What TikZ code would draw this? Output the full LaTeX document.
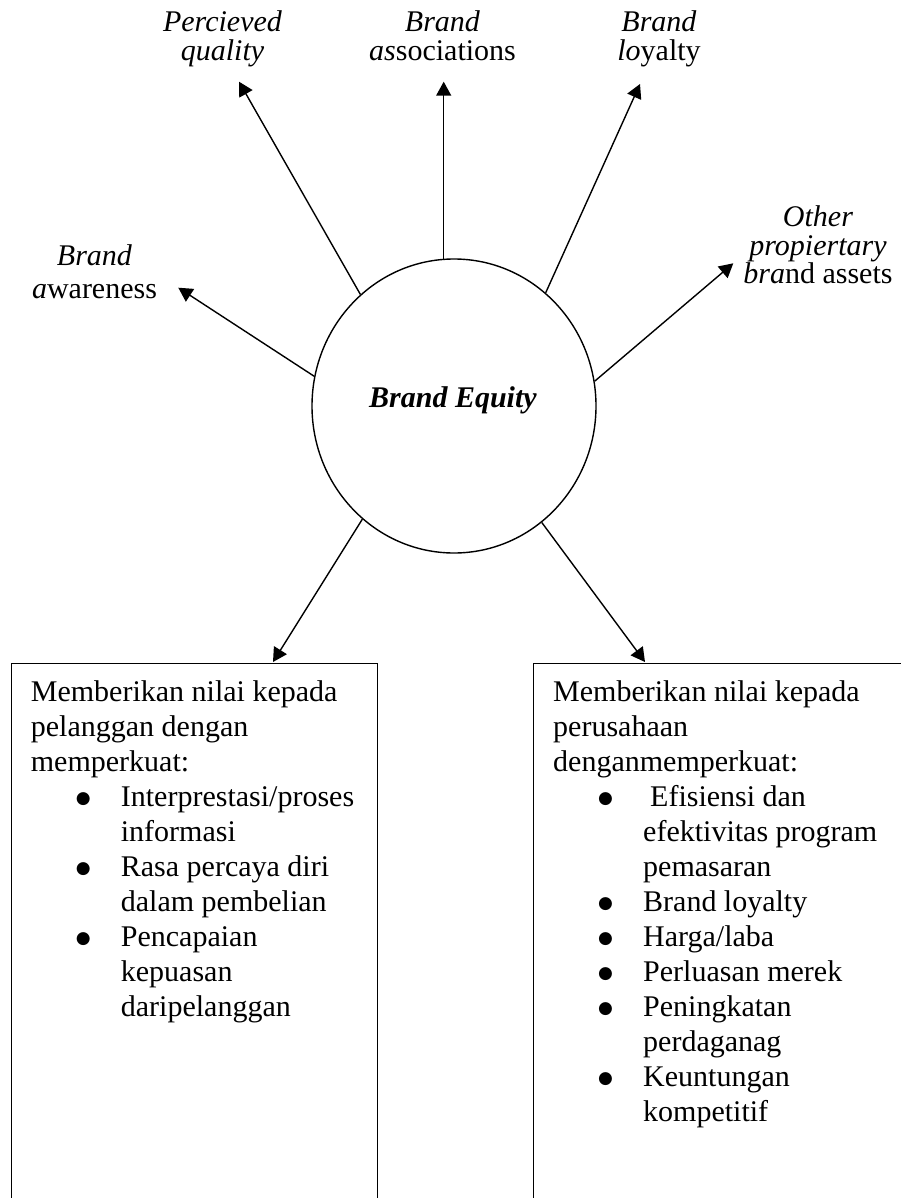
\documentclass[tikz,border=0pt]{standalone}
\usepackage{fontspec}
\setmainfont{Liberation Serif}
\newfontfamily\dotfont{DejaVu Sans}
\usetikzlibrary{shapes.geometric,arrows.meta}

% list lines: a round bullet, then the item text on a hanging indent
\newcommand{\bigbullet}{\raisebox{2.5pt}{\dotfont\fontsize{17}{35}\selectfont ●}}
\newcommand{\itemline}[1]{\hspace*{45pt}\makebox[45pt][l]{\bigbullet}#1}
\newcommand{\contline}[1]{\hspace*{90pt}#1}

\begin{document}
\begin{tikzpicture}[x=1pt,y=-1pt,
  conn/.style={line width=1.4pt,-{Triangle[width=15pt,length=14pt]}},
  frame/.style={draw,line width=1.4pt,inner sep=0pt,anchor=north west},
  toplabel/.style={inner sep=0pt,anchor=north,font=\fontsize{30}{28.3}\selectfont},
  sidelabel/.style={inner sep=0pt,anchor=north,font=\fontsize{30}{33}\selectfont},
  boxtext/.style={inner sep=0pt,anchor=north west,font=\fontsize{30}{35}\selectfont}]

\useasboundingbox (0,0) rectangle (901,1198);
\clip (0,0) rectangle (901,1198);

% central ellipse
\node[ellipse,draw,line width=1.4pt,minimum width=284pt,minimum height=294pt,inner sep=0pt] (be) at (454,406) {};
\node[anchor=base,inner sep=0pt,font=\fontsize{30}{35}\selectfont] (betxt) at (453,407) {\textbf{\textit{Brand Equity}}};

% surrounding dimensions
\node[sidelabel] (aw) at (94.5,241) {\parbox[t]{200pt}{\centering\rule{0pt}{24pt}\textit{Brand}\\\textit{a}wareness}};
\node[toplabel] (pq) at (222.5,7.7) {\parbox[t]{200pt}{\centering\rule{0pt}{24pt}\textit{Percieved}\\\textit{quality}}};
\node[toplabel] (ba) at (442.5,7.7) {\parbox[t]{200pt}{\centering\rule{0pt}{24pt}\textit{Brand}\\\textit{as}sociations}};
\node[toplabel] (bl) at (659,7.7) {\parbox[t]{200pt}{\centering\rule{0pt}{24pt}\textit{Brand}\\\textit{lo}yalty}};
\node[toplabel] (op) at (818,202.7) {\parbox[t]{200pt}{\centering\rule{0pt}{24pt}\textit{Other}\\\textit{propiertary}\\\textit{bra}nd assets}};

\coordinate (awtip) at (178.3,287.7);
\coordinate (pqtip) at (239,81.7);
\coordinate (batip) at (443,81.7);
\coordinate (bltip) at (640,84);
\coordinate (optip) at (733.3,263.3);

\draw[conn] (be.168.8) -- (awtip);
\draw[conn] (be.130.05) -- (pqtip);
\draw[conn] (be.94.4) -- (be.94.4 |- batip);
\draw[conn] (be.51.4) -- (bltip);
\draw[conn] (be.10.45) -- (optip);

% value boxes
\node[frame,minimum width=365.7pt,minimum height=600pt] (lbox) at (11,662.7) {};
\node[frame,minimum width=420pt,minimum height=600pt] (rbox) at (533,662.7) {};

\coordinate (ltip) at (273,662);
\coordinate (rtip) at (645,662);
\draw[conn] (be.231.4) -- (ltip);
\draw[conn] (be.307.6) -- (rtip);

\node[boxtext] (ltxt) at (30.7,677) {\parbox[t]{420pt}{\raggedright\rule{0pt}{24pt}Memberikan nilai kepada\\
pelanggan dengan\\
memperkuat:\\
\itemline{Interprestasi/proses}\\
\contline{informasi}\\
\itemline{Rasa percaya diri}\\
\contline{dalam pembelian}\\
\itemline{Pencapaian}\\
\contline{kepuasan}\\
\contline{daripelanggan}}};

\node[boxtext] (rtxt) at (553,677) {\parbox[t]{420pt}{\raggedright\rule{0pt}{24pt}Memberikan nilai kepada\\
perusahaan\\
denganmemperkuat:\\
\itemline{\hspace*{7pt}Efisiensi dan}\\
\contline{efektivitas program}\\
\contline{pemasaran}\\
\itemline{Brand loyalty}\\
\itemline{Harga/laba}\\
\itemline{Perluasan merek}\\
\itemline{Peningkatan}\\
\contline{perdaganag}\\
\itemline{Keuntungan}\\
\contline{kompetitif}}};

\end{tikzpicture}
\end{document}
